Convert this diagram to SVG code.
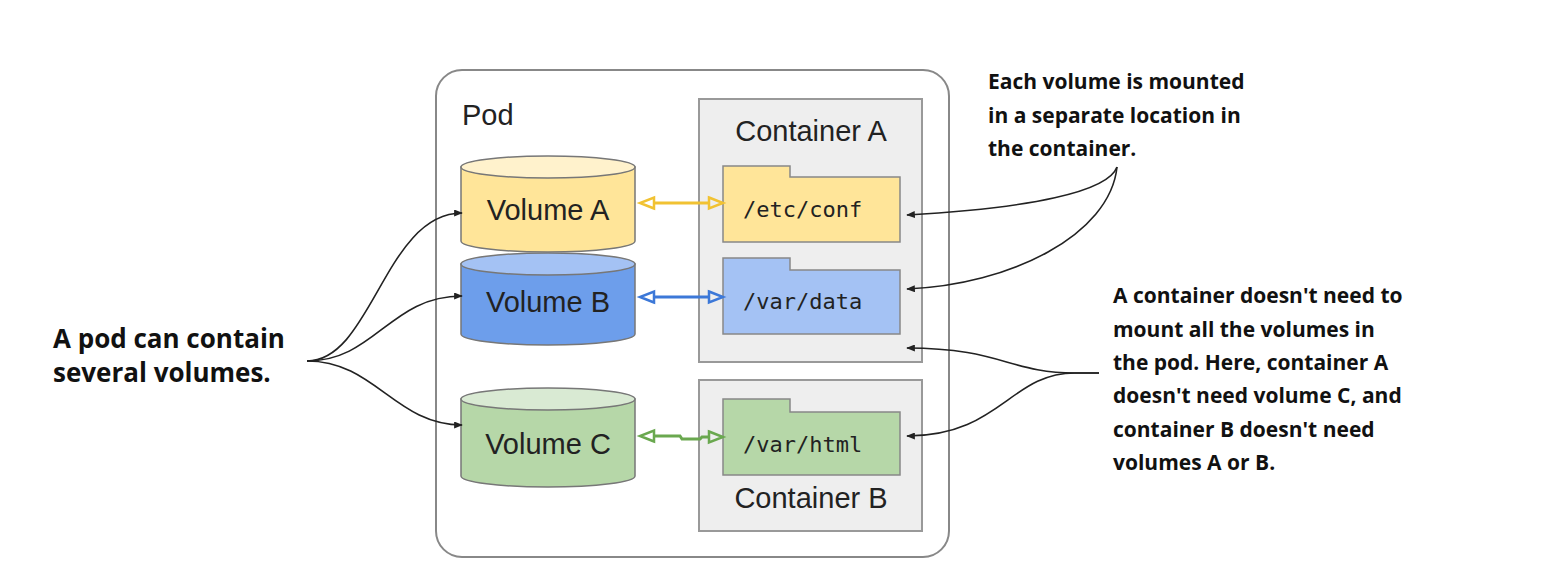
<svg xmlns="http://www.w3.org/2000/svg" width="1562" height="582" viewBox="0 0 1562 582">
<defs>
<style>
.lbl{font-family:"Liberation Sans",Arial,sans-serif;font-size:29px;fill:#222}
.mono{font-family:"DejaVu Sans Mono","Liberation Mono",monospace;font-size:22px;fill:#222}
.note{font-family:"Open Sans",Lato,sans-serif;font-weight:bold;font-size:21px;fill:#111}
.note-l{font-family:"Open Sans",Lato,sans-serif;font-weight:bold;font-size:26px;fill:#111}
.ctr{fill:#eeeeee;stroke:#999;stroke-width:2}
.fold{stroke:#888;stroke-width:1.5}
.cyl{stroke:#777;stroke-width:1.5}
.curve{fill:none;stroke:#222;stroke-width:1.6}
.dbl{fill:none;stroke-width:3}
</style>
<marker id="ty" viewBox="0 0 16 14" markerWidth="16" markerHeight="14" refX="1" refY="7" orient="auto-start-reverse" markerUnits="userSpaceOnUse" overflow="visible"><path d="M1,1.5 L15,7 L1,12.5 Z" fill="none" stroke="#f1c232" stroke-width="2.5"/></marker>
<marker id="tb" viewBox="0 0 16 14" markerWidth="16" markerHeight="14" refX="1" refY="7" orient="auto-start-reverse" markerUnits="userSpaceOnUse" overflow="visible"><path d="M1,1.5 L15,7 L1,12.5 Z" fill="none" stroke="#3c78d8" stroke-width="2.5"/></marker>
<marker id="tg" viewBox="0 0 16 14" markerWidth="16" markerHeight="14" refX="1" refY="7" orient="auto-start-reverse" markerUnits="userSpaceOnUse" overflow="visible"><path d="M1,1.5 L15,7 L1,12.5 Z" fill="none" stroke="#6aa84f" stroke-width="2.5"/></marker>
<marker id="ak" viewBox="0 0 10 8" markerWidth="9" markerHeight="7" refX="9" refY="4" orient="auto" markerUnits="userSpaceOnUse"><path d="M0,0 L10,4 L0,8 Z" fill="#222"/></marker>
</defs>
<rect width="1562" height="582" fill="#ffffff"/>

<g id="pod">
<rect x="436" y="70" width="513" height="487" rx="26" ry="26" fill="#ffffff" stroke="#888" stroke-width="2"/>
<text class="lbl" x="462" y="125">Pod</text>
</g>

<g id="container-a">
<rect class="ctr" x="699" y="99" width="223" height="263"/>
<text class="lbl" x="811" y="141" text-anchor="middle">Container A</text>
</g>

<g id="container-b">
<rect class="ctr" x="699" y="380" width="223" height="151"/>
<text class="lbl" x="811" y="508" text-anchor="middle">Container B</text>
</g>

<g id="folder-etc-conf">
<path class="fold" d="M723,166 L790,166 L790,177 L900,177 L900,242 L723,242 Z" fill="#ffe599"/>
<text class="mono" x="743" y="217">/etc/conf</text>
</g>

<g id="folder-var-data">
<path class="fold" d="M723,258 L790,258 L790,270 L900,270 L900,334 L723,334 Z" fill="#a4c2f4"/>
<text class="mono" x="743" y="309">/var/data</text>
</g>

<g id="folder-var-html">
<path class="fold" d="M723,399 L790,399 L790,412 L900,412 L900,475 L723,475 Z" fill="#b6d7a8"/>
<text class="mono" x="743" y="452">/var/html</text>
</g>

<g id="volume-a">
<path class="cyl" d="M461,167 L461,241 A87,11 0 0 0 635,241 L635,167 Z" fill="#ffe599"/>
<ellipse class="cyl" cx="548" cy="167" rx="87" ry="11" fill="#fff2cc"/>
<text class="lbl" x="548" y="220" text-anchor="middle">Volume A</text>
</g>

<g id="volume-b">
<path class="cyl" d="M461,264 L461,334 A87,11 0 0 0 635,334 L635,264 Z" fill="#6d9eeb"/>
<ellipse class="cyl" cx="548" cy="264" rx="87" ry="11" fill="#a4c2f4"/>
<text class="lbl" x="548" y="312" text-anchor="middle">Volume B</text>
</g>

<g id="volume-c">
<path class="cyl" d="M461,399 L461,476 A87,11 0 0 0 635,476 L635,399 Z" fill="#b6d7a8"/>
<ellipse class="cyl" cx="548" cy="399" rx="87" ry="11" fill="#d9ead3"/>
<text class="lbl" x="548" y="454" text-anchor="middle">Volume C</text>
</g>

<g id="note-left">
<text class="note-l" x="53" y="348">A pod can contain</text>
<text class="note-l" x="53" y="382">several volumes.</text>
</g>

<g id="note-top-right">
<text class="note" x="988" y="89">Each volume is mounted</text>
<text class="note" x="988" y="123">in a separate location in</text>
<text class="note" x="988" y="156">the container.</text>
</g>

<g id="note-bottom-right">
<text class="note" x="1113" y="303">A container doesn't need to</text>
<text class="note" x="1113" y="337">mount all the volumes in</text>
<text class="note" x="1113" y="370">the pod. Here, container A</text>
<text class="note" x="1113" y="403">doesn't need volume C, and</text>
<text class="note" x="1113" y="437">container B doesn't need</text>
<text class="note" x="1113" y="470">volumes A or B.</text>
</g>

<g id="connectors">
<path class="dbl" stroke="#f1c232" d="M654,203 L709,203" marker-start="url(#ty)" marker-end="url(#ty)"/>
<path class="dbl" stroke="#3c78d8" d="M654,297 L709,297" marker-start="url(#tb)" marker-end="url(#tb)"/>
<path class="dbl" stroke="#6aa84f" d="M654,436 L680,436 L682,439 L700,439 L702,437 L709,437" marker-start="url(#tg)" marker-end="url(#tg)"/>

<path class="curve" d="M307,361 C372,361 385,213 462,213" marker-end="url(#ak)"/>
<path class="curve" d="M307,361 C375,361 390,296 462,296" marker-end="url(#ak)"/>
<path class="curve" d="M307,361 C375,361 395,425 462,425" marker-end="url(#ak)"/>

<path class="curve" d="M1117,167 C1108,192 1030,208 907,215" marker-end="url(#ak)"/>
<path class="curve" d="M1117,167 C1110,235 1010,285 907,289" marker-end="url(#ak)"/>

<path class="curve" d="M1099,373 L1075,373 C1010,373 1000,348 907,348" marker-end="url(#ak)"/>
<path class="curve" d="M1099,373 L1075,373 C1010,373 1000,436 907,436" marker-end="url(#ak)"/>
</g>
</svg>
